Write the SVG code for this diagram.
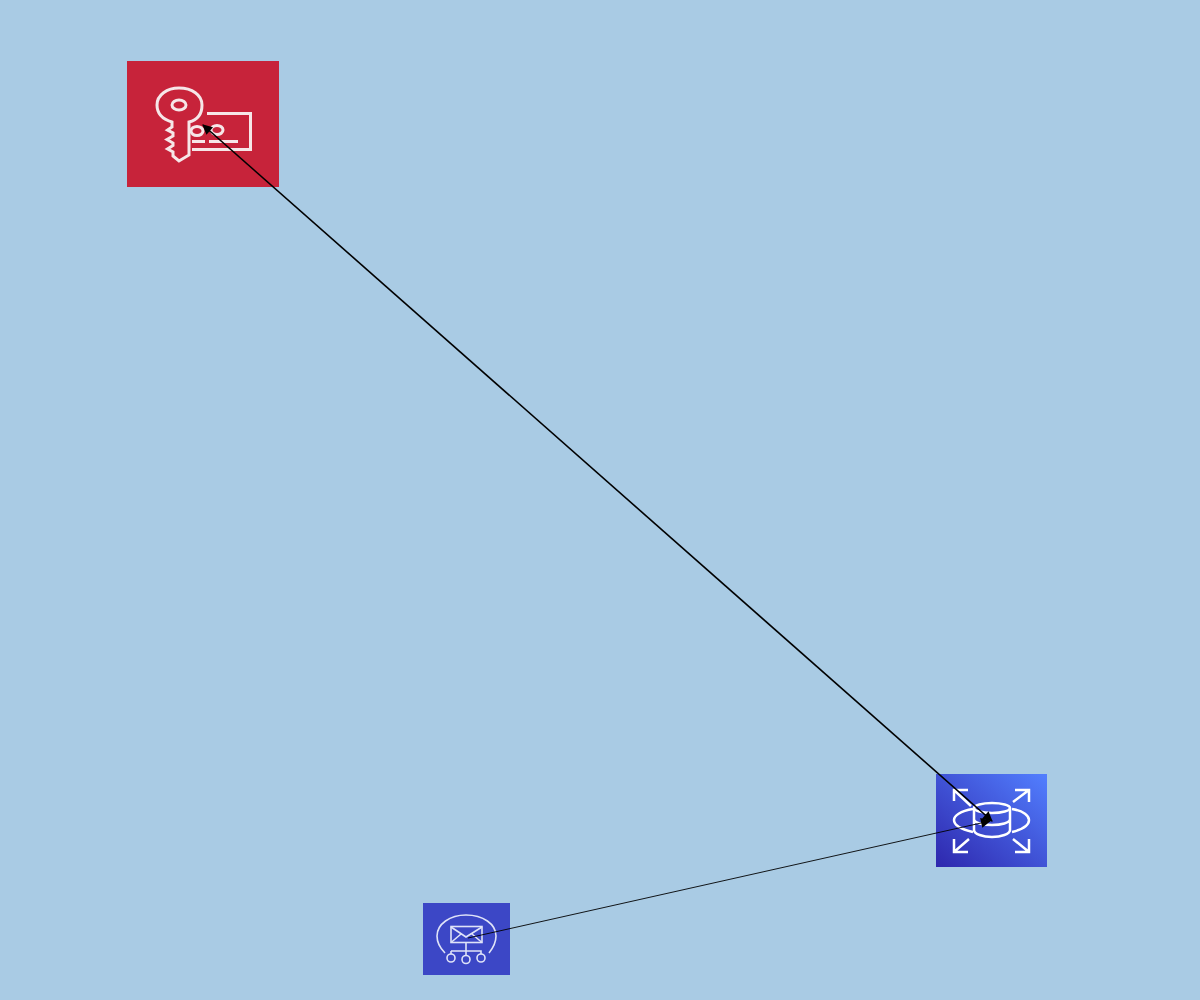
<svg xmlns="http://www.w3.org/2000/svg" width="1200" height="1000" viewBox="0 0 1200 1000">
<style>
.g{fill:none;stroke:#f6e6e8;stroke-width:3}
.w{fill:none;stroke:#fff;stroke-width:2.500}
.m{fill:none;stroke:#dfe3f8;stroke-width:1.600}
.c{fill:none;stroke:#000}
</style>
<defs>
<linearGradient id="rds" x1="0" y1="1" x2="1" y2="0"><stop offset="0" stop-color="#2e27ad"/><stop offset="1" stop-color="#527fff"/></linearGradient>
<marker id="a" viewBox="0 0 10 10" refX="9" refY="5" markerWidth="11" markerHeight="10" markerUnits="userSpaceOnUse" orient="auto-start-reverse"><path d="M0 0L10 5L0 10Z" fill="#000"/></marker>
<marker id="b" viewBox="0 0 10 10" refX="9" refY="5" markerWidth="14" markerHeight="10" markerUnits="userSpaceOnUse" orient="auto"><path d="M0 0L10 5L0 10Z" fill="#000"/></marker>
</defs>
<rect width="1200" height="1000" fill="#a9cbe4"/>
<g id="secrets-manager">
<rect x="127" y="61" width="152" height="126" fill="#c7233a"/>
<path class="g" d="M172 122C162 119 157 113 157 105C157 95 167 88 179 88C192 88 202 95 202 105C202 114 197 120 189 122V155L179 161L173 156V152L167.500 149L173 145.500V143L167 139.500L173 136V133L167.500 130L172 127Z"/>
<ellipse class="g" cx="179" cy="105" rx="7" ry="5"/>
<path class="g" d="M207 113.500H250.500V149.500H192"/>
<ellipse class="g" cx="197" cy="131" rx="6" ry="4.500"/>
<ellipse class="g" cx="217" cy="130" rx="6" ry="4.500"/>
<path class="g" d="M192 141.500H205M209 141.500H238"/>
</g>
<g id="rds-instance">
<rect x="936" y="774" width="111" height="93" fill="url(#rds)"/>
<path class="w" d="M954 801V790H968M954 790L971 806M1029 802V790H1015M1029 790L1013 802M954 839V852H968M954 852L969 839M1029 839V852H1015M1029 852L1013 839"/>
<path class="w" d="M973 809C960 811 954 816 954 820C954 825 960 829 973 832M1012 809C1024 811 1029 816 1029 820C1029 825 1024 829 1012 832"/>
<ellipse class="w" cx="992" cy="808" rx="18" ry="5"/>
<path class="w" d="M974 808V830C974 834 983 837 992 837C1001 837 1010 834 1010 830V808M974 819C974 823 983 825 992 825C1001 825 1010 823 1010 819"/>
</g>
<g id="sns-topic">
<rect x="423" y="903" width="87" height="72" fill="#3c47c6"/>
<path class="m" d="M445 953C440 948 437 942 437 936C437 924 450 915 466 915C483 915 496 924 496 936C496 942 493 948 489 953"/>
<rect class="m" x="451" y="926.500" width="31" height="16"/>
<path class="m" d="M451 927L466 937L482 927M451 942.500L461 934M482 942.500L472 934M466 942.500V955M451 951H481V954M451 951V954"/>
<circle class="m" cx="451" cy="958" r="4"/><circle class="m" cx="466" cy="959.500" r="4"/><circle class="m" cx="481" cy="958" r="4"/>
</g>
<g id="connectors">
<path class="c" stroke-width="1.600" d="M203 125L992 821" marker-start="url(#a)" marker-end="url(#a)"/>
<path class="c" stroke-width="0.900" d="M468 938L990 821" marker-end="url(#b)"/>
</g>
</svg>
